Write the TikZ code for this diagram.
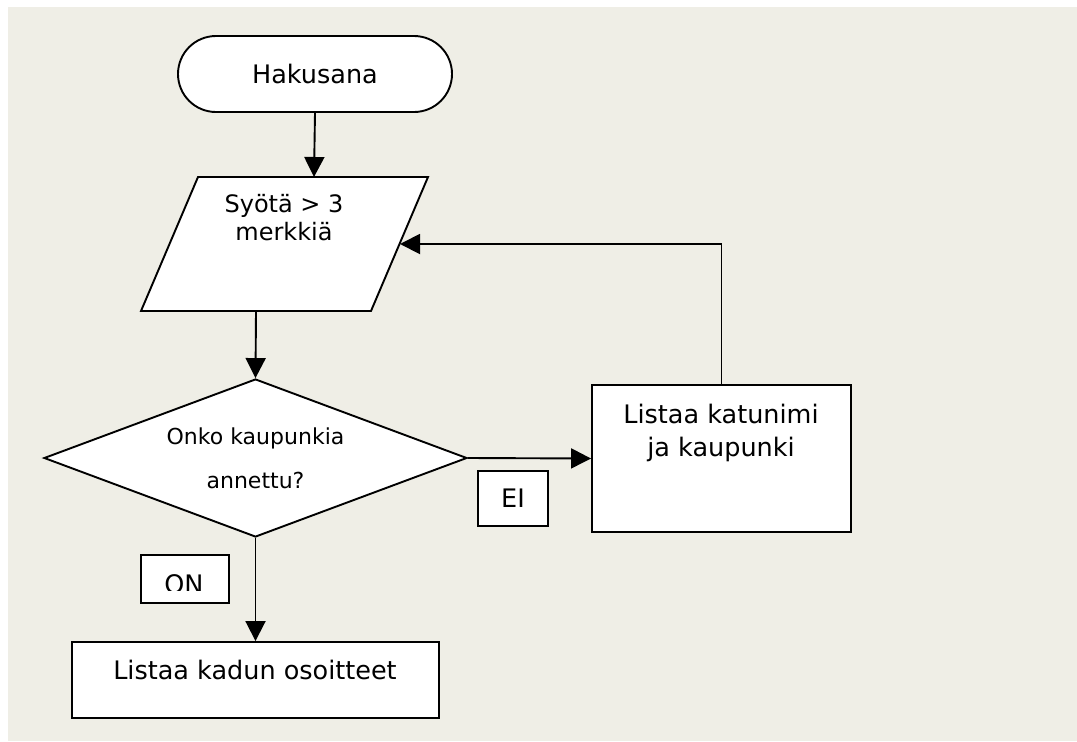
\documentclass[tikz,border=0pt]{standalone}
\usepackage{fontspec}
\setmainfont{DejaVu Sans}
\usetikzlibrary{shapes.geometric,arrows.meta}
\definecolor{paper}{RGB}{239,238,230}
\begin{document}
\begin{tikzpicture}[x=1pt,y=-1pt,
    box/.style={draw=black,fill=white,line width=1.9pt},
    txt/.style={font=\fontsize{25.5}{33}\selectfont,align=center,inner sep=0pt},
    arr/.style={line width=1.9pt,-{Triangle[length=20pt,width=20pt]}}]
\useasboundingbox (0,0) rectangle (1077,742);
\fill[paper] (8,7) rectangle (1077,741);

% start
\node[box,txt,rounded corners=38pt,minimum width=274pt,minimum height=76pt] (hak) at (315,74) {Hakusana};

% input
\draw[box] (198,177) -- (428,177) -- (371,311) -- (141,311) -- cycle;
\coordinate (syota-n) at (314,177);
\coordinate (syota-s) at (256,311);
\coordinate (syota-e) at (400,244);
\node[txt,font=\fontsize{24}{28}\selectfont,anchor=north] (syota) at (284,194) {Syötä > 3\\merkkiä};

% decision
\node[box,diamond,aspect=2.68,minimum width=423pt,minimum height=158pt,inner sep=0pt,
      font=\fontsize{22}{44}\selectfont,align=center] (onko) at (255.5,458) {Onko kaupunkia\\annettu?};

% boxes
\node[box,minimum width=259pt,minimum height=147pt] (lista1) at (721.5,458.5) {};
\node[txt,anchor=north] (lista1-txt) at (721,404) {Listaa katunimi\\ja kaupunki};
\node[box,minimum width=367pt,minimum height=76pt] (lista2) at (255.5,680) {};
\node[txt,anchor=base] (lista2-txt) at (255,679) {Listaa kadun osoitteet};

% labels
\node[box,txt,minimum width=70pt,minimum height=55pt] (ei) at (513,498.5) {EI};
\node[box,minimum width=88pt,minimum height=48pt] (on) at (185,579) {};
\begin{scope}
  \clip (141,555) rectangle (229,590.5);
  \node[txt,anchor=base] (on-txt) at (184,593) {ON};
\end{scope}

% connectors
\draw[arr] (hak.south) -- (syota-n);
\draw[arr] (syota-s) -- (onko.north);
\draw[arr] (onko.east) -- (lista1.west);
\draw[arr] (lista1.north) -- (lista1.north |- syota-e) -- (syota-e);
\draw[arr] (onko.south) -- (lista2.north);
\end{tikzpicture}
\end{document}
